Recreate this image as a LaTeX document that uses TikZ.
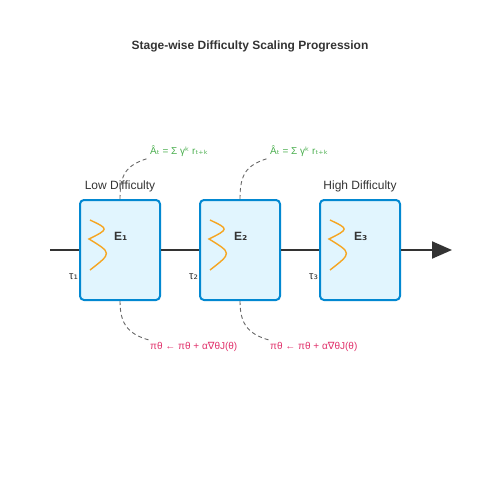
\documentclass[tikz,border=0pt]{standalone}
\usepackage{fontspec}
\setmainfont{Liberation Sans}
\newfontfamily\dv{DejaVu Sans}
\usetikzlibrary{arrows.meta}
\definecolor{boxline}{HTML}{0288D1}
\definecolor{boxfill}{HTML}{E1F5FE}
\definecolor{wave}{HTML}{F5A623}
\definecolor{mainline}{HTML}{333333}
\definecolor{eqgreen}{HTML}{4CAF50}
\definecolor{eqpink}{HTML}{E0306A}
\definecolor{dashgray}{HTML}{666666}
\tikzset{
  stagebox/.style={draw=boxline, fill=boxfill, line width=2pt, rounded corners=4pt,
    minimum width=80pt, minimum height=100pt, inner sep=0pt},
  mainconn/.style={draw=mainline, line width=2pt},
  dashconn/.style={draw=dashgray, line width=0.9pt, dash pattern=on 4pt off 3pt},
  wavecurve/.style={draw=wave, line width=1.4pt},
  titletext/.style={font=\fontsize{12}{14}\selectfont\bfseries, text=mainline, inner sep=0pt},
  stagetext/.style={font=\fontsize{12}{14}\selectfont, text=mainline, inner sep=0pt},
  etext/.style={font=\fontsize{12}{14}\selectfont\bfseries, text=mainline, inner sep=0pt, anchor=west},
  tautext/.style={font=\fontsize{11}{13}\selectfont, text=mainline, inner sep=0pt, anchor=west},
  greentext/.style={font=\fontsize{10}{12}\selectfont, text=eqgreen, inner sep=0pt, anchor=west},
  pinktext/.style={font=\fontsize{10}{12}\selectfont, text=eqpink, inner sep=0pt, anchor=west},
}
\begin{document}
\begin{tikzpicture}[x=1pt,y=-1pt]
\useasboundingbox (0,0) rectangle (500,500);
\node[titletext] (title) at (250,46.5) {Stage-wise Difficulty Scaling Progression};

\coordinate (start) at (50,250);
\coordinate (end) at (452,250);

\node[stagebox] (b1) at (120,250) {};
\node[stagebox] (b2) at (240,250) {};
\node[stagebox] (b3) at (360,250) {};

\draw[mainconn] (start) -- (b1.west);
\draw[mainconn] (b1.east) -- (b2.west);
\draw[mainconn] (b2.east) -- (b3.west);
\draw[mainconn, -{Triangle[length=20pt,width=17pt]}] (b3.east) -- (end);

\foreach \i/\x in {1/0,2/120,3/240} {
  \draw[wavecurve] (90+\x,220) .. controls (109+\x,229) .. (89+\x,239)
                               .. controls (112+\x,253) .. (90+\x,270);
}

\node[etext] (e1) at (114,236.5) {E{\dv ₁}};
\node[etext] (e2) at (234,236.5) {E{\dv ₂}};
\node[etext] (e3) at (354,236.5) {E{\dv ₃}};

\node[tautext] (t1) at (69,276.5) {τ{\dv ₁}};
\node[tautext] (t2) at (189,276.5) {τ{\dv ₂}};
\node[tautext] (t3) at (309,276.5) {τ{\dv ₃}};

\node[stagetext] (low) at (120,186.5) {Low Difficulty};
\node[stagetext] (high) at (360,186.5) {High Difficulty};

\node[greentext] (g1) at (150,151.5) {Â{\dv ₜ} = Σ γ{\dv ᵏ} r{\dv ₜ₊ₖ}};
\node[greentext] (g2) at (270,151.5) {Â{\dv ₜ} = Σ γ{\dv ᵏ} r{\dv ₜ₊ₖ}};

\node[pinktext] (p1) at (150,346.5) {πθ ← πθ + α{\dv ∇}θJ(θ)};
\node[pinktext] (p2) at (270,346.5) {πθ ← πθ + α{\dv ∇}θJ(θ)};

\coordinate (g1end) at (149,158);
\coordinate (g2end) at (269,158);
\coordinate (p1end) at (149,340);
\coordinate (p2end) at (269,340);

\draw[dashconn] (b1.north) .. controls (120,174) and (126,165) .. (g1end);
\draw[dashconn] (b2.north) .. controls (240,174) and (246,165) .. (g2end);
\draw[dashconn] (b1.south) .. controls (120,324) and (128,334) .. (p1end);
\draw[dashconn] (b2.south) .. controls (240,324) and (248,334) .. (p2end);
\end{tikzpicture}
\end{document}
